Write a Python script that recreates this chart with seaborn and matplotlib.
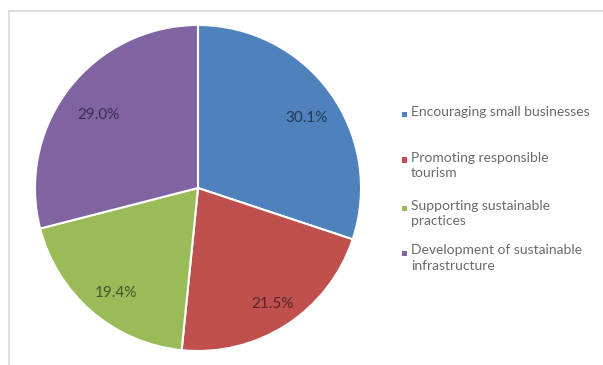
import matplotlib
matplotlib.use("Agg")
import matplotlib.pyplot as plt
import seaborn as sns
from matplotlib.patches import Rectangle
from matplotlib.lines import Line2D

categories = [
    "Encouraging small businesses",
    "Promoting responsible\ntourism",
    "Supporting sustainable\npractices",
    "Development of sustainable\ninfrastructure",
]
values = [30.1, 21.5, 19.4, 29.0]
colors = ["#4F81BD", "#C0504D", "#9BBB59", "#8064A2"]

sns.set_theme(style="white")
plt.rcParams["font.family"] = ["Lato", "DejaVu Sans"]

W, H = 603, 365
fig = plt.figure(figsize=(W / 100, H / 100), dpi=100)
fig.patch.set_facecolor("white")

def fx(px):
    return px / W

def fy(py):
    return 1 - py / H

# pie axes: center (198,188), radius 163
cx, cy, r = 198, 188, 163
ax = fig.add_axes([fx(cx - r), fy(cy + r), 2 * r / W, 2 * r / H])
wedges, texts, autotexts = ax.pie(
    values,
    colors=colors,
    startangle=90,
    counterclock=False,
    autopct="%.1f%%",
    pctdistance=0.8,
    wedgeprops=dict(edgecolor="white", linewidth=1.5),
    textprops=dict(fontsize=11, color=(0, 0, 0, 0.55)),
)
for t in autotexts:
    x, y = t.get_position()
    t.set_position((x + 0.02, y - 0.04))
ax.set_xlim(-1, 1)
ax.set_ylim(-1, 1)
ax.set_aspect("auto")
ax.axis("off")

# chart frame (light gray)
fig.add_artist(Line2D([fx(9), fx(603)], [fy(11), fy(11)], color="#d9d9d9", lw=1.2))
fig.add_artist(Line2D([fx(9), fx(9)], [fy(11), fy(365)], color="#d9d9d9", lw=1.2))

# legend
line_y = [114, 160, 208, 253]
for cat, col, yc in zip(categories, colors, line_y):
    fig.add_artist(Rectangle((fx(402), fy(yc + 2.5)), 5 / W, 5 / H,
                             facecolor=col, edgecolor="none"))
    fig.text(fx(411), fy(yc - 8.5), cat, fontsize=10, color="#6a6a6a",
             va="top", ha="left", linespacing=1.38)

fig.savefig("out.png", dpi=100, facecolor="white")
